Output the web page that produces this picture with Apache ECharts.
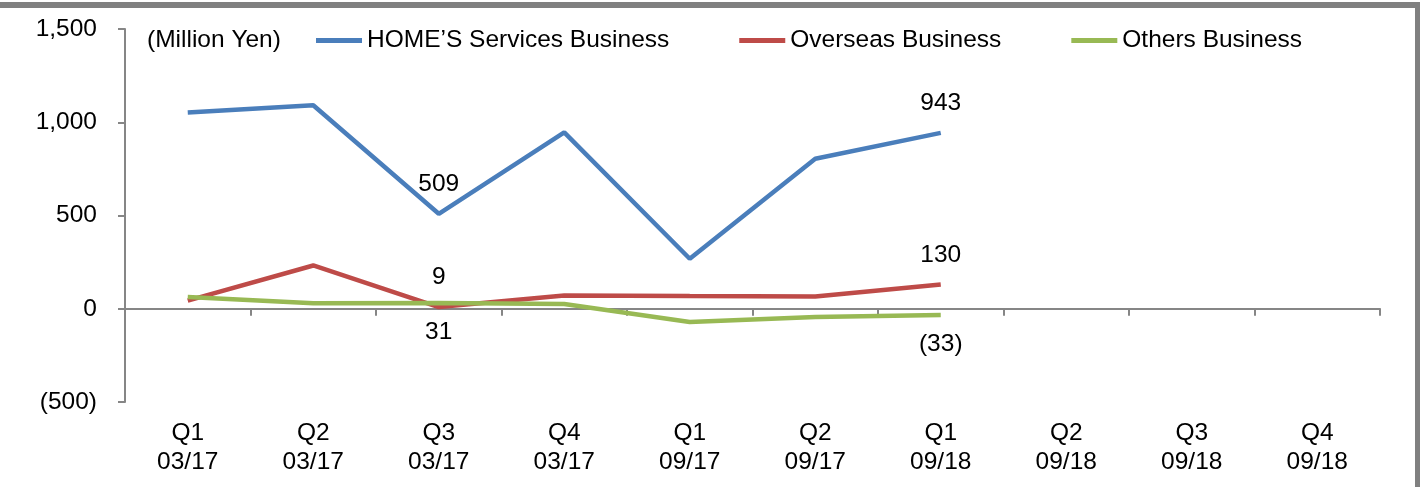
<!DOCTYPE html>
<html>
<head>
<meta charset="utf-8">
<title>Segment profit by quarter</title>
<script src="https://cdn.jsdelivr.net/npm/echarts@6/dist/echarts.min.js"></script>
<style>
  html, body { margin: 0; padding: 0; background: #fff; }
  #chart { width: 1420px; height: 487px; }
</style>
</head>
<body>
<div id="chart"></div>
<script>
// ---------------------------------------------------------------------------
// Data (million yen)
// ---------------------------------------------------------------------------
const quarters = ["Q1\n03/17", "Q2\n03/17", "Q3\n03/17", "Q4\n03/17", "Q1\n09/17",
                  "Q2\n09/17", "Q1\n09/18", "Q2\n09/18", "Q3\n09/18", "Q4\n09/18"];
const homesValues    = [1052, 1091, 509, 946, 268, 804, 943, null, null, null];
const overseasValues = [44, 232, 9, 71, 68, 66, 130, null, null, null];
const othersValues   = [63, 30, 31, 26, -71, -44, -33, null, null, null];
const labelIndexes   = [2, 6];   // points that carry a value label

const FONT = "'Liberation Sans', Arial, sans-serif";
const FONT_SIZE = 24.5;
const AXIS_GRAY = "#868686";

const chart = echarts.init(document.getElementById("chart"));

// negative numbers shown in accounting style: (33)
function fmt(v) {
  const s = Math.abs(v).toLocaleString("en-US");
  return v < 0 ? `(${s})` : s;
}

// wrap values so only selected points get a label
function withLabels(values, position) {
  return values.map((v, i) => {
    if (!labelIndexes.includes(i) || v == null) return v;
    return { value: v, label: { show: true, position: position, distance: 17 } };
  });
}

function lineSeries(name, values, color, labelPos) {
  return {
    name: name,
    type: "line",
    xAxisIndex: 0,
    data: withLabels(values, labelPos),
    symbol: "circle",
    symbolSize: 0.1,
    showSymbol: true,
    lineStyle: { color: color, width: 4.5 },
    itemStyle: { color: color },
    label: {
      show: false,
      color: "#000",
      fontFamily: FONT,
      fontSize: FONT_SIZE,
      formatter: (p) => fmt(p.value),
    },
    emphasis: { disabled: true },
    animation: false,
  };
}

const option = {
  backgroundColor: "#fff",
  textStyle: { fontFamily: FONT },
  title: {
    text: "(Million Yen)",
    left: 147,
    top: 28,
    padding: 0,
    textStyle: { color: "#000", fontFamily: FONT, fontSize: FONT_SIZE, fontWeight: "normal" },
  },
  legend: {
    left: 316,
    top: 28,
    padding: 0,
    itemWidth: 46,
    itemHeight: 5,
    itemGap: 70,
    icon: "rect",
    textStyle: { color: "#000", fontFamily: FONT, fontSize: FONT_SIZE },
    data: ["HOME’S Services Business", "Overseas Business", "Others Business"],
  },
  grid: { left: 125, right: 40, top: 29, bottom: 85, containLabel: false },
  xAxis: [
    {
      type: "category",
      data: quarters,
      boundaryGap: true,
      axisLine: { onZero: true, lineStyle: { color: AXIS_GRAY, width: 2 } },
      axisTick: { show: true, inside: false, length: 7, lineStyle: { color: AXIS_GRAY, width: 2 } },
      axisLabel: { show: false },
      splitLine: { show: false },
    },
    {
      type: "category",
      data: quarters,
      position: "bottom",
      boundaryGap: true,
      axisLine: { show: false, onZero: false },
      axisTick: { show: false },
      axisLabel: {
        interval: 0,
        margin: 17,
        color: "#000",
        fontFamily: FONT,
        fontSize: FONT_SIZE,
        lineHeight: 29,
      },
    },
  ],
  yAxis: {
    type: "value",
    min: -500,
    max: 1500,
    interval: 500,
    axisLine: { show: true, lineStyle: { color: AXIS_GRAY, width: 2 } },
    axisTick: { show: true, inside: false, length: 7, lineStyle: { color: AXIS_GRAY, width: 2 } },
    axisLabel: { margin: 28, color: "#000", fontFamily: FONT, fontSize: FONT_SIZE, formatter: fmt },
    splitLine: { show: false },
  },
  graphic: [
    // grey frame edges from the original slide
    { type: "rect", shape: { x: 0, y: 2, width: 1420, height: 6 }, style: { fill: "#808080" }, silent: true },
    { type: "rect", shape: { x: 1415, y: 2, width: 5, height: 485 }, style: { fill: "#808080" }, silent: true },
  ],
  series: [
    lineSeries("HOME’S Services Business", homesValues, "#4A7EBB", "top"),
    lineSeries("Overseas Business", overseasValues, "#BE4B48", "top"),
    lineSeries("Others Business", othersValues, "#98B954", "bottom"),
  ],
};

chart.setOption(option);
</script>
</body>
</html>
